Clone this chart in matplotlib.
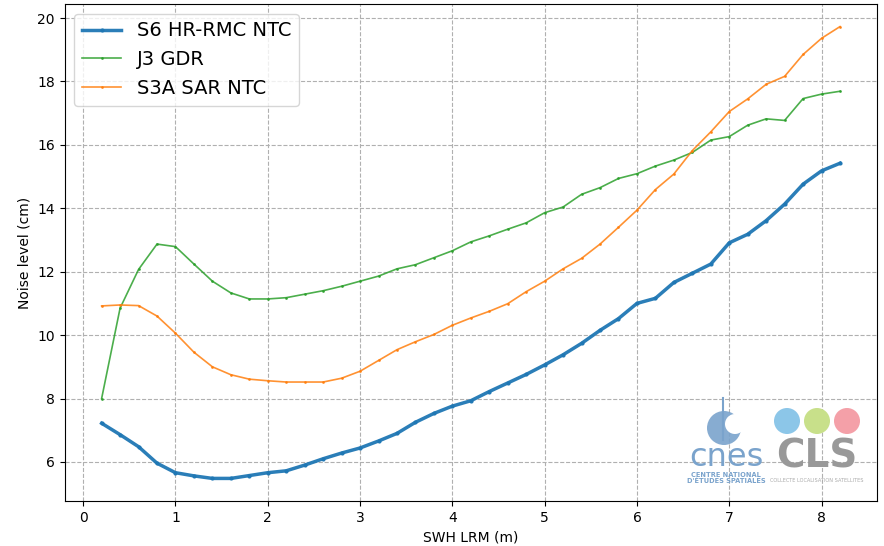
import matplotlib.pyplot as plt
from matplotlib.patches import Circle

# SWH bins (m)
swh = [0.2, 0.4, 0.6, 0.8, 1.0, 1.2, 1.4, 1.6, 1.8, 2.0, 2.2, 2.4, 2.6, 2.8,
       3.0, 3.2, 3.4, 3.6, 3.8, 4.0, 4.2, 4.4, 4.6, 4.8, 5.0, 5.2, 5.4, 5.6,
       5.8, 6.0, 6.2, 6.4, 6.6, 6.8, 7.0, 7.2, 7.4, 7.6, 7.8, 8.0, 8.2]

# noise level (cm) per mission
s6_hr = [7.22, 6.86, 6.48, 5.96, 5.66, 5.56, 5.48, 5.48, 5.57, 5.66, 5.72, 5.90,
         6.10, 6.28, 6.44, 6.66, 6.90, 7.25, 7.53, 7.76, 7.93, 8.22, 8.49, 8.76,
         9.06, 9.38, 9.74, 10.15, 10.52, 11.0, 11.16, 11.66, 11.95, 12.24, 12.91,
         13.18, 13.61, 14.13, 14.76, 15.18, 15.42]
j3_gdr = [8.0, 10.85, 12.07, 12.87, 12.79, 12.24, 11.70, 11.33, 11.14, 11.14,
          11.18, 11.29, 11.40, 11.54, 11.70, 11.86, 12.09, 12.22, 12.44, 12.66,
          12.94, 13.13, 13.34, 13.54, 13.86, 14.04, 14.44, 14.65, 14.94, 15.09,
          15.33, 15.52, 15.76, 16.15, 16.26, 16.62, 16.82, 16.77, 17.46, 17.60, 17.69]
s3a_sar = [10.92, 10.95, 10.93, 10.60, 10.06, 9.46, 9.00, 8.75, 8.61, 8.56, 8.52,
           8.52, 8.52, 8.64, 8.86, 9.20, 9.54, 9.79, 10.02, 10.31, 10.54, 10.75,
           10.99, 11.37, 11.70, 12.09, 12.42, 12.87, 13.40, 13.94, 14.59, 15.08,
           15.82, 16.41, 17.05, 17.45, 17.91, 18.16, 18.85, 19.36, 19.73]

fig = plt.figure(figsize=(8.84, 5.46), dpi=100)
ax = fig.add_axes([0.0732, 0.0824, 0.9188, 0.9103])

ax.plot(swh, s6_hr, '.-', color='tab:blue', lw=2.5, ms=4, alpha=0.95,
        label='S6 HR-RMC NTC')
ax.plot(swh, j3_gdr, '.-', color='tab:green', lw=1.2, ms=2, alpha=0.85,
        label='J3 GDR')
ax.plot(swh, s3a_sar, '.-', color='tab:orange', lw=1.2, ms=2, alpha=0.85,
        label='S3A SAR NTC')

ax.set_yticks([6, 8, 10, 12, 14, 16, 18, 20])
ax.set_xlabel('SWH LRM (m)')
ax.set_ylabel('Noise level (cm)')
ax.grid(True, linestyle='--', color='#b0b0b0', lw=0.8)
ax.legend(loc='upper left', fontsize=14)

# logos (cnes / CLS) drawn in a pixel-space overlay
ov = fig.add_axes([0, 0, 1, 1], zorder=5)
ov.set_xlim(0, 884)
ov.set_ylim(546, 0)
ov.axis('off')

cnes_blue = '#7aa3cc'
ov.add_patch(Circle((724, 428), 17, color=cnes_blue, alpha=0.9, lw=0))
ov.add_patch(Circle((735, 424), 10, color='white', lw=0))
ov.plot([723, 723], [398, 440], color=cnes_blue, lw=1.5)
ov.text(726, 457, 'cnes', color=cnes_blue, fontsize=23, ha='center', va='center')
ov.text(726, 475, 'CENTRE NATIONAL', color=cnes_blue, fontsize=4.8, ha='center',
        va='center', weight='bold')
ov.text(726, 481, "D'ÉTUDES SPATIALES", color=cnes_blue, fontsize=4.8, ha='center',
        va='center', weight='bold')

for cx, col in [(787, '#8cc6e8'), (817, '#c8e08a'), (847, '#f4a0a8')]:
    ov.add_patch(Circle((cx, 421), 13, color=col, lw=0))
ov.text(817, 457, 'CLS', color='#999999', fontsize=28, ha='center', va='center',
        weight='bold')
ov.text(817, 480, 'COLLECTE LOCALISATION SATELLITES', color='#aaaaaa',
        fontsize=3.6, ha='center', va='center')

fig.savefig('out.png', dpi=100)
